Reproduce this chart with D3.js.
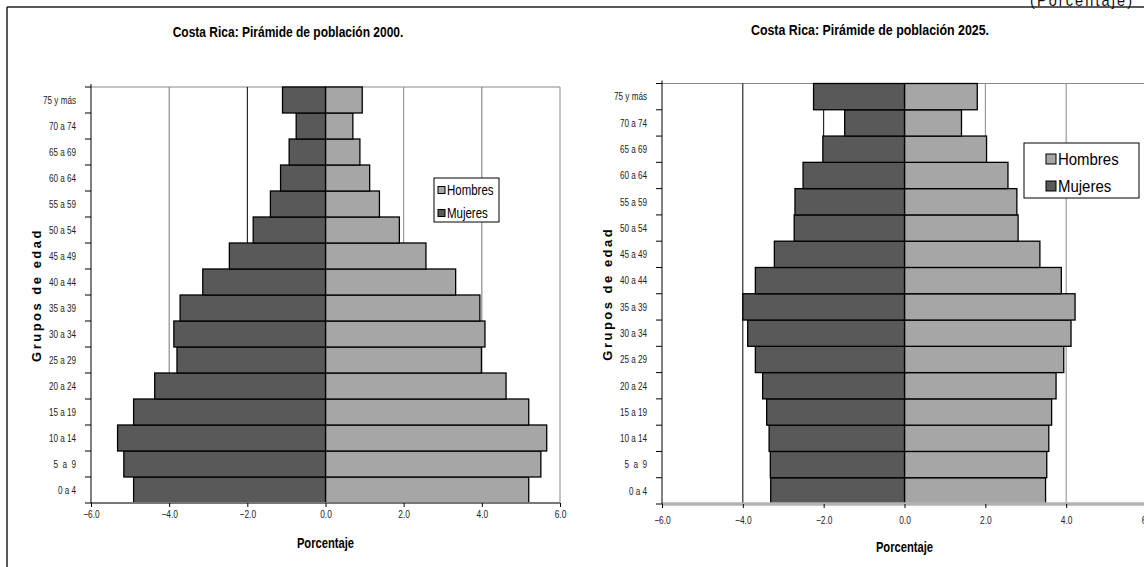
<!DOCTYPE html>
<html>
<head>
<meta charset="utf-8">
<script src="https://cdnjs.cloudflare.com/ajax/libs/d3/7.8.5/d3.min.js"></script>
<style>
  body { margin: 0; background: #fff; }
  svg text { font-family: "Liberation Sans", Arial, sans-serif; }
</style>
</head>
<body>
<div id="chart"></div>
<script>
// Age groups, bottom to top
var ageGroups = ["0 a 4", "5  a  9", "10 a 14", "15 a 19", "20 a 24", "25 a 29", "30 a 34",
    "35 a 39", "40 a 44", "45 a 49", "50 a 54", "55 a 59", "60 a 64", "65 a 69", "70 a 74", "75 y más"];

var seriesNames = ["Hombres", "Mujeres"];
var xTicks = [-6, -4, -2, 0, 2, 4, 6];

// percentages
var hombres2000 = [5.20, 5.51, 5.66, 5.20, 4.62, 3.99, 4.08, 3.95, 3.33, 2.57, 1.89, 1.38, 1.13, 0.88, 0.70, 0.94];
var mujeres2000 = [4.91, 5.16, 5.32, 4.91, 4.37, 3.80, 3.88, 3.72, 3.14, 2.46, 1.85, 1.41, 1.15, 0.93, 0.75, 1.10];
var hombres2025 = [3.49, 3.52, 3.57, 3.64, 3.75, 3.94, 4.12, 4.22, 3.88, 3.35, 2.81, 2.78, 2.56, 2.03, 1.41, 1.80];
var mujeres2025 = [3.31, 3.32, 3.35, 3.41, 3.51, 3.69, 3.88, 4.00, 3.69, 3.22, 2.73, 2.71, 2.51, 2.02, 1.48, 2.25];

var W = 1144, H = 567;
var colHombres = "#a6a6a6", colMujeres = "#595959";
var NARROW = 0.8; // no Arial Narrow installed, so squeeze text horizontally

var svg = d3.select("#chart").append("svg")
    .attr("width", W)
    .attr("height", H);

// text squeezed sideways around its anchor point
function narrowText(parent, x, y, size, str, s) {
    return parent.append("text")
        .attr("transform", "translate(" + x + "," + y + ") scale(" + (s || NARROW) + ",1)")
        .style("font-size", size + "px")
        .style("white-space", "pre")
        .text(str);
}

// outer frame (only top and left visible)
svg.append("line").attr("x1", 7).attr("y1", 7).attr("x2", W).attr("y2", 7)
    .attr("stroke", "#222").attr("stroke-width", 1.5);
svg.append("line").attr("x1", 7).attr("y1", 7).attr("x2", 7).attr("y2", H)
    .attr("stroke", "#222").attr("stroke-width", 1.5);

// unit label at top right, cut by the page edge as in the source
narrowText(svg, 1030, 6, 17, "(Porcentaje)", 0.85)
    .style("letter-spacing", "2.5px")
    .attr("fill", "#111");

function makePyramid(opts, hombres, mujeres) {
    var g = svg.append("g");

    var x = d3.scaleLinear().domain([-6, 6]).range([opts.left, opts.right]);
    var y = d3.scaleBand().domain(ageGroups).range([opts.bottom, opts.top]).padding(0);

    // title
    narrowText(g, opts.titleX, opts.titleY, opts.titleSize, opts.title)
        .attr("text-anchor", "middle")
        .style("font-weight", "bold");

    // plot area border (top, right)
    g.append("path")
        .attr("d", "M" + opts.left + "," + opts.top + "H" + opts.right + "V" + opts.bottom)
        .attr("fill", "none")
        .attr("stroke", "#888")
        .attr("stroke-width", 1);

    // gridlines
    g.selectAll(".grid")
        .data(xTicks.filter(function (d) { return d != 0 && Math.abs(d) != 6; }))
        .enter()
        .append("line")
        .attr("x1", function (d) { return x(d); })
        .attr("x2", function (d) { return x(d); })
        .attr("y1", opts.top)
        .attr("y2", opts.bottom)
        .attr("stroke", function (d, i) { return opts.gridColors[i]; })
        .attr("stroke-width", 1);

    // bars
    g.selectAll(".hombres")
        .data(hombres)
        .enter()
        .append("rect")
        .attr("x", x(0))
        .attr("y", function (d, i) { return y(ageGroups[i]); })
        .attr("width", function (d) { return x(d) - x(0); })
        .attr("height", y.bandwidth())
        .attr("fill", colHombres)
        .attr("stroke", "#000")
        .attr("stroke-width", 1.3);

    g.selectAll(".mujeres")
        .data(mujeres)
        .enter()
        .append("rect")
        .attr("x", function (d) { return x(-d); })
        .attr("y", function (d, i) { return y(ageGroups[i]); })
        .attr("width", function (d) { return x(0) - x(-d); })
        .attr("height", y.bandwidth())
        .attr("fill", colMujeres)
        .attr("stroke", "#000")
        .attr("stroke-width", 1.3);

    // bottom axis
    g.append("line")
        .attr("x1", opts.left).attr("x2", opts.right)
        .attr("y1", opts.bottom).attr("y2", opts.bottom)
        .attr("stroke", opts.baseColor)
        .attr("stroke-width", opts.baseWidth);

    var xAxis = g.append("g")
        .attr("transform", "translate(0," + opts.bottom + ")")
        .call(d3.axisBottom(x).tickValues(xTicks).tickFormat(d3.format(".1f"))
            .tickSize(4).tickSizeOuter(0).tickPadding(opts.xTickPad));
    xAxis.select(".domain").remove();
    xAxis.selectAll("line").attr("stroke", "#000");
    xAxis.selectAll("text")
        .attr("transform", "scale(" + NARROW + ",1)")
        .style("font-size", "10.5px")
        .attr("fill", "#222");

    // left axis: line and ticks at band boundaries
    g.append("line")
        .attr("x1", opts.left).attr("x2", opts.left)
        .attr("y1", opts.top - 3).attr("y2", opts.bottom)
        .attr("stroke", "#000").attr("stroke-width", 1);

    var bounds = ageGroups.map(function (a) { return y(a); });
    bounds.push(opts.bottom);
    g.selectAll(".ytick")
        .data(bounds)
        .enter()
        .append("line")
        .attr("x1", opts.left - 6).attr("x2", opts.left)
        .attr("y1", function (d) { return d; })
        .attr("y2", function (d) { return d; })
        .attr("stroke", "#000");

    ageGroups.forEach(function (a) {
        narrowText(g, opts.left - 15, y(a) + y.bandwidth() / 2, 11, a, 0.74)
            .attr("dy", "0.35em")
            .attr("text-anchor", "end")
            .attr("fill", "#222");
    });

    // axis titles
    narrowText(g, x(0), opts.xTitleY, 14, "Porcentaje")
        .attr("text-anchor", "middle")
        .style("font-weight", "bold");

    g.append("text")
        .attr("transform", "translate(" + opts.yTitleX + "," + (opts.top + opts.bottom) / 2 + ") rotate(-90)")
        .attr("text-anchor", "middle")
        .attr("dy", "0.35em")
        .style("font-size", "13px")
        .style("font-weight", "bold")
        .style("letter-spacing", "2.5px")
        .text("Grupos de edad");

    // legend
    var lg = g.append("g").attr("transform", "translate(" + opts.legX + "," + opts.legY + ")");
    lg.append("rect")
        .attr("width", opts.legW).attr("height", opts.legH)
        .attr("fill", "#fff").attr("stroke", "#000").attr("stroke-width", 1);
    var legendData = [colHombres, colMujeres];
    lg.selectAll(".sw")
        .data(legendData)
        .enter()
        .append("rect")
        .attr("x", opts.swX)
        .attr("y", function (d, i) { return opts.itemY[i] - opts.sw / 2; })
        .attr("width", opts.sw).attr("height", opts.sw)
        .attr("fill", function (d) { return d; })
        .attr("stroke", "#000").attr("stroke-width", 1);
    seriesNames.forEach(function (name, i) {
        narrowText(lg, opts.swX + opts.sw + 2, opts.itemY[i], opts.legFont, name, opts.legScale)
            .attr("dy", "0.36em");
    });
}

makePyramid({
    title: "Costa Rica: Pirámide de población 2000.",
    titleX: 288, titleY: 37, titleSize: 15,
    left: 91, right: 560, top: 87, bottom: 503,
    gridColors: ["#777", "#000", "#888", "#777"],
    baseColor: "#777", baseWidth: 2,
    xTickPad: 4, xTitleY: 548, yTitleX: 36,
    legX: 434, legY: 178, legW: 65, legH: 44,
    swX: 4, sw: 7, itemY: [12, 35], legFont: 14, legScale: 0.82
}, hombres2000, mujeres2000);

makePyramid({
    title: "Costa Rica: Pirámide de población 2025.",
    titleX: 870, titleY: 35, titleSize: 15.5,
    left: 662, right: 1147, top: 83.5, bottom: 504,
    gridColors: ["#000", "#000", "#888", "#888"],
    baseColor: "#b3b3b3", baseWidth: 3.5,
    xTickPad: 9, xTitleY: 552, yTitleX: 607,
    legX: 1024, legY: 143, legW: 115, legH: 55,
    swX: 22, sw: 10, itemY: [16, 43], legFont: 17, legScale: 0.88
}, hombres2025, mujeres2025);
</script>
</body>
</html>
